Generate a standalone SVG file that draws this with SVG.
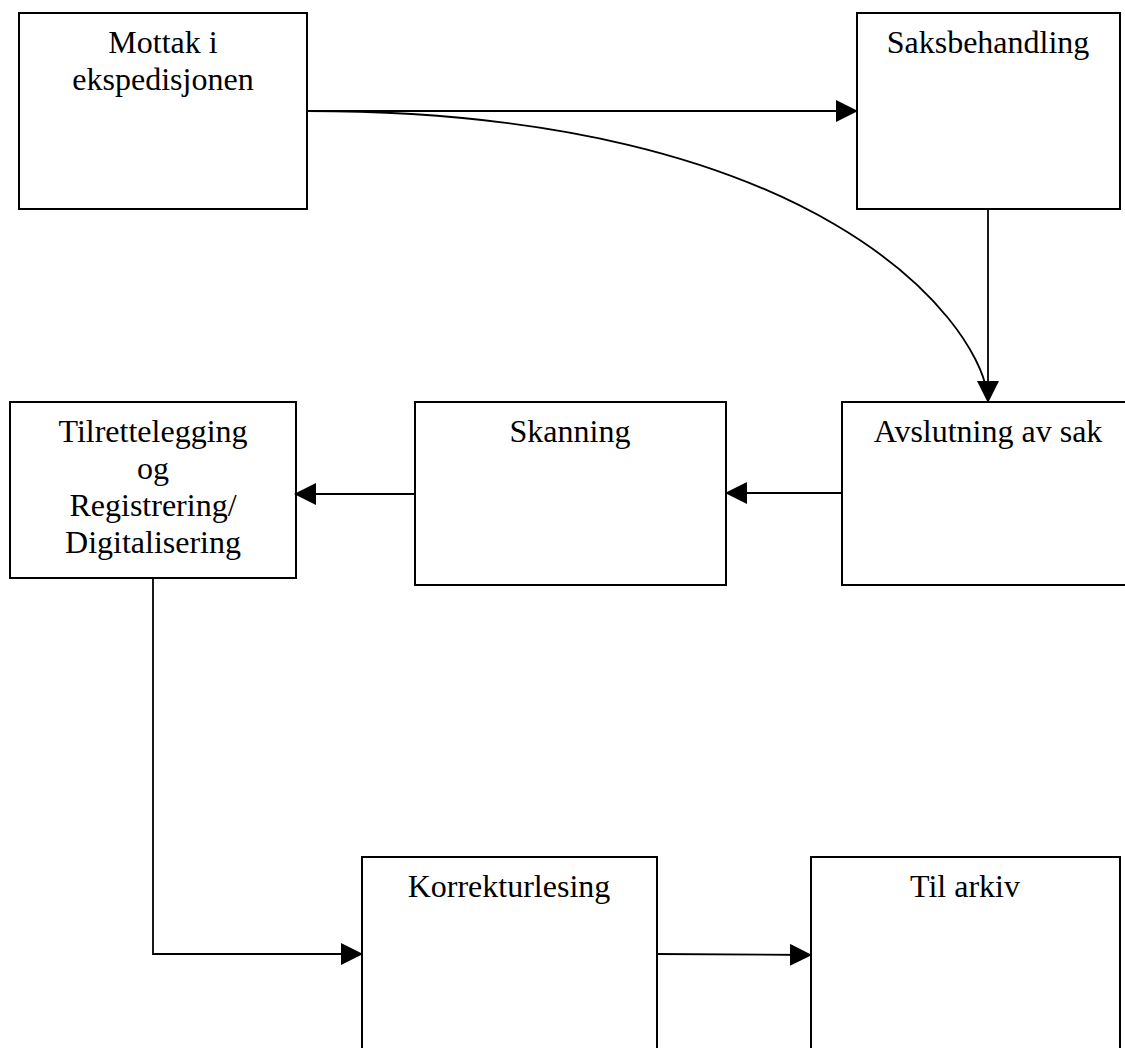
<svg xmlns="http://www.w3.org/2000/svg" width="1125" height="1048" viewBox="0 0 1125 1048">
<style>
.box{fill:#fff;stroke:#000;stroke-width:2}
.lbl{font-family:"Liberation Serif","Times New Roman",serif;font-size:32px;fill:#000;text-anchor:middle}
.con{fill:none;stroke:#000;stroke-width:1.8}
</style>
<defs>
<marker id="ah" markerUnits="userSpaceOnUse" markerWidth="22" markerHeight="22" viewBox="0 0 22 22" refX="21" refY="11" orient="auto">
<path d="M0,0 L22,11 L0,22 Z" fill="#000"/>
</marker>
</defs>
<rect width="1125" height="1048" fill="#fff"/>
<g id="n1"><rect class="box" x="19" y="13" width="288" height="196"/><text class="lbl" x="163" y="53">Mottak i</text><text class="lbl" x="163" y="90">ekspedisjonen</text></g>
<g id="n2"><rect class="box" x="857" y="13" width="263" height="196"/><text class="lbl" x="988" y="53">Saksbehandling</text></g>
<g id="n3"><rect class="box" x="842" y="402" width="300" height="183"/><text class="lbl" x="988" y="442">Avslutning av sak</text></g>
<g id="n4"><rect class="box" x="415" y="402" width="311" height="183"/><text class="lbl" x="570" y="442">Skanning</text></g>
<g id="n5"><rect class="box" x="10" y="402" width="286" height="176"/><text class="lbl" x="153" y="442">Tilrettelegging</text><text class="lbl" x="153" y="479">og</text><text class="lbl" x="153" y="516">Registrering/</text><text class="lbl" x="153" y="553">Digitalisering</text></g>
<g id="n6"><rect class="box" x="362" y="857" width="295" height="200"/><text class="lbl" x="509" y="897">Korrekturlesing</text></g>
<g id="n7"><rect class="box" x="811" y="857" width="309" height="200"/><text class="lbl" x="965" y="897">Til arkiv</text></g>
<g id="connectors">
<path class="con" d="M307,111 L857,111" marker-end="url(#ah)"/>
<path class="con" d="M307,111 C820,111 975,320 987,392"/>
<path class="con" d="M988,209 L988,402" marker-end="url(#ah)"/>
<path class="con" d="M842,493 L726,493" marker-end="url(#ah)"/>
<path class="con" d="M415,494 L295,494" marker-end="url(#ah)"/>
<path class="con" d="M153,578 L153,954 L362,954" marker-end="url(#ah)"/>
<path class="con" d="M657,954 L811,955" marker-end="url(#ah)"/>
</g>
</svg>
